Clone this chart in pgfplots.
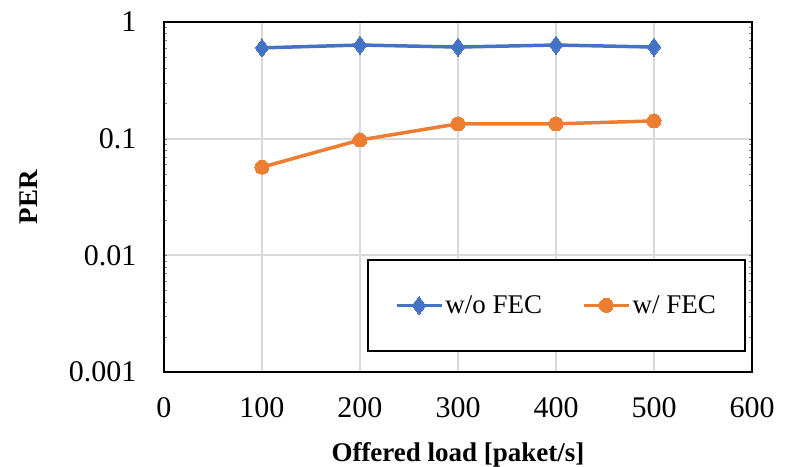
\documentclass[border=0pt]{standalone}
\usepackage{pgfplots}
\pgfplotsset{compat=1.18}
\usepackage{fontspec}
\setmainfont{Liberation Serif}
\definecolor{xblue}{HTML}{4472C4}
\definecolor{xorange}{HTML}{ED7D31}
\definecolor{xgrid}{HTML}{D9D9D9}
\begin{document}
\begin{tikzpicture}
\path[use as bounding box] (-164pt,-94pt) rectangle (628pt,372pt);
\begin{axis}[
    scale only axis,
    width=588pt, height=350pt,
    at={(0pt,0pt)}, anchor=south west,
    ymode=log,
    xmin=0, xmax=600, ymin=0.001, ymax=1,
    xtick={0,100,...,600},
    ytick={0.001,0.01,0.1,1},
    yticklabels={0.001,0.01,0.1,1},
    minor ytick={},
    major tick length=0pt,
    grid=major,
    major grid style={xgrid, line width=1.8pt},
    axis line style={black, line width=1.8pt},
    /pgf/number format/assume math mode=true,
    tick label style={font=\fontsize{30}{34}\selectfont},
    xticklabel style={yshift=-22pt},
    yticklabel style={xshift=-24pt},
    xlabel={\textbf{Offered load [paket/s]}},
    ylabel={\textbf{PER}},
    label style={font=\fontsize{27}{30}\selectfont},
    xlabel style={at={(0.5,0)}, anchor=center, yshift=-83pt},
    ylabel style={at={(-0.23,0.5)}, anchor=center},
    legend columns=2,
    legend style={
        at={(0.345,0.0571)}, anchor=south west,
        draw=black, line width=1.8pt,
        font=\fontsize{27}{30}\selectfont,
        inner xsep=27pt, inner ysep=34pt,
        /tikz/every even column/.append style={column sep=38pt},
    },
    legend image code/.code={
        \draw[#1, mark=none] (0pt,0pt) -- (45pt,0pt);
        \draw[#1, only marks] plot coordinates {(22.5pt,0pt)};
    },
]
\addplot[xblue, line width=3.5pt, mark=diamond*, mark size=9pt, mark options={solid, line width=0pt}]
coordinates {
    (100, 0.60)(200, 0.635)(300, 0.61)(400, 0.635)(500, 0.61)
};
\addlegendentry{w/o FEC}
\addplot[xorange, line width=3.5pt, mark=*, mark size=7pt, mark options={solid, line width=0pt}]
coordinates {
    (100, 0.057)(200, 0.0975)(300, 0.134)(400, 0.134)(500, 0.142)
};
\addlegendentry{w/ FEC}
\end{axis}
\end{tikzpicture}
\end{document}
